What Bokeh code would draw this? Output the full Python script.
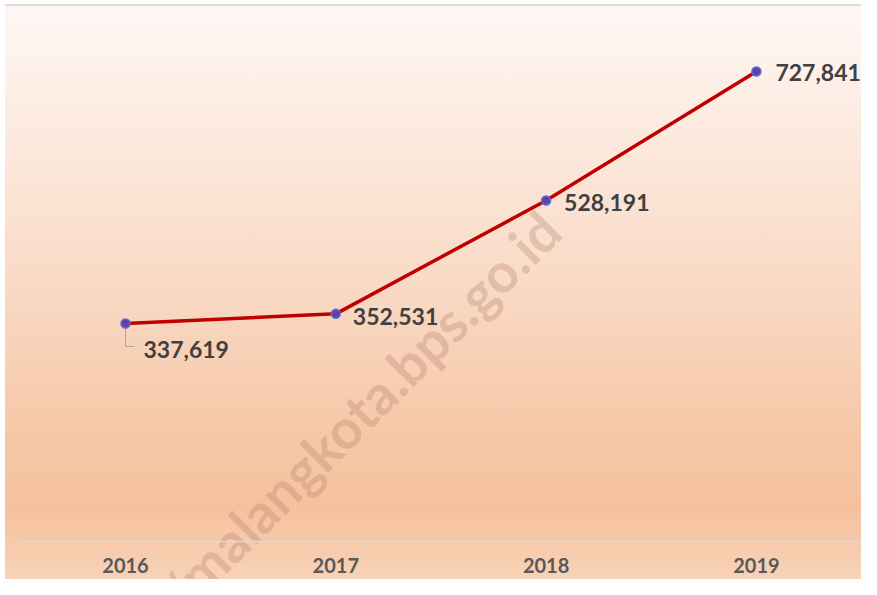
from bokeh.plotting import figure
from bokeh.models import Range1d
from bokeh.core.properties import value
from bokeh.embed import file_html
from bokeh.resources import INLINE

years = ["2016", "2017", "2018", "2019"]
values = [337619, 352531, 528191, 727841]
value_labels = ["337,619", "352,531", "528,191", "727,841"]
watermark = "https://malangkota.bps.go.id"

# layout (pixels inside the figure)
W, H = 861, 579
X0_PX, STEP_PX = 125, 210.3          # centre of first category, category width
Y0_PX, PX_PER_UNIT = 541, 0.0006457  # baseline (value 0) and vertical scale

def dx(px):
    return px / STEP_PX

def dy(px):
    return px / PX_PER_UNIT

x_range = Range1d(-dx(X0_PX), dx(W - X0_PX))
y_range = Range1d(-dy(H - Y0_PX), dy(Y0_PX))

p = figure(width=W, height=H, output_backend="svg", toolbar_location=None,
           x_range=x_range, y_range=y_range,
           x_axis_location=None, y_axis_location=None, min_border=0)
p.background_fill_color = None
p.border_fill_color = None
p.outline_line_color = None
p.xgrid.visible = False
p.ygrid.visible = False
p.styles = {
    "background": "linear-gradient(to right, #FFFFFF 0px, #FFFFFF 5px, rgba(255,255,255,0) 5px), "
                  "linear-gradient(to bottom, #FFFFFF 0px, #FFFFFF 4px, #DADADA 4px, #DADADA 6px, "
                  "#FEF6F2 6px, #FEF6F2 20px, #FCE8DC 150px, #F9DAC6 280px, #F6C9AA 420px, "
                  "#F5C19E 510px, #F8D3B8 579px)",
}

xs = list(range(len(years)))

# watermark (starts below the chart, runs up to the right)
p.text([-dx(X0_PX - 62)], [-dy(708 - Y0_PX)], text=[watermark], angle=45, angle_units="deg",
       text_align="left", text_baseline="middle", text_font=value("Lato"),
       text_font_style="bold", text_font_size="55px", text_color="#B07A66", text_alpha=0.3)

# category axis line and labels
p.line([xs[0] - 0.5, xs[-1] + 0.5], [0, 0], line_color="#D9D9D9", line_width=1.5)
p.text(xs, [-dy(565 - Y0_PX)] * len(xs), text=years, text_align="center", text_baseline="middle",
       text_font=value("Lato"), text_font_style="bold", text_font_size="20px",
       text_color="#595959")

# leader line for first label
p.line([xs[0], xs[0], xs[0] + dx(9)],
       [values[0] - dy(3), values[0] - dy(23), values[0] - dy(23)],
       line_color="#A6A6A6", line_width=1)

# series
p.line(xs, values, line_color="#C00000", line_width=3.5)
p.scatter(xs, values, size=9, fill_color="#6A3CA8", line_color="#4F72D0", line_width=1.5)
p.text(xs, values, text=value_labels,
       x_offset=[18, 17, 18, 19], y_offset=[26, 3, 2, 1],
       text_font=value("Lato"), text_font_style="bold", text_font_size="23px",
       text_color="#404040", text_align="left", text_baseline="middle")

open("out.html", "w").write(file_html(p, INLINE))
